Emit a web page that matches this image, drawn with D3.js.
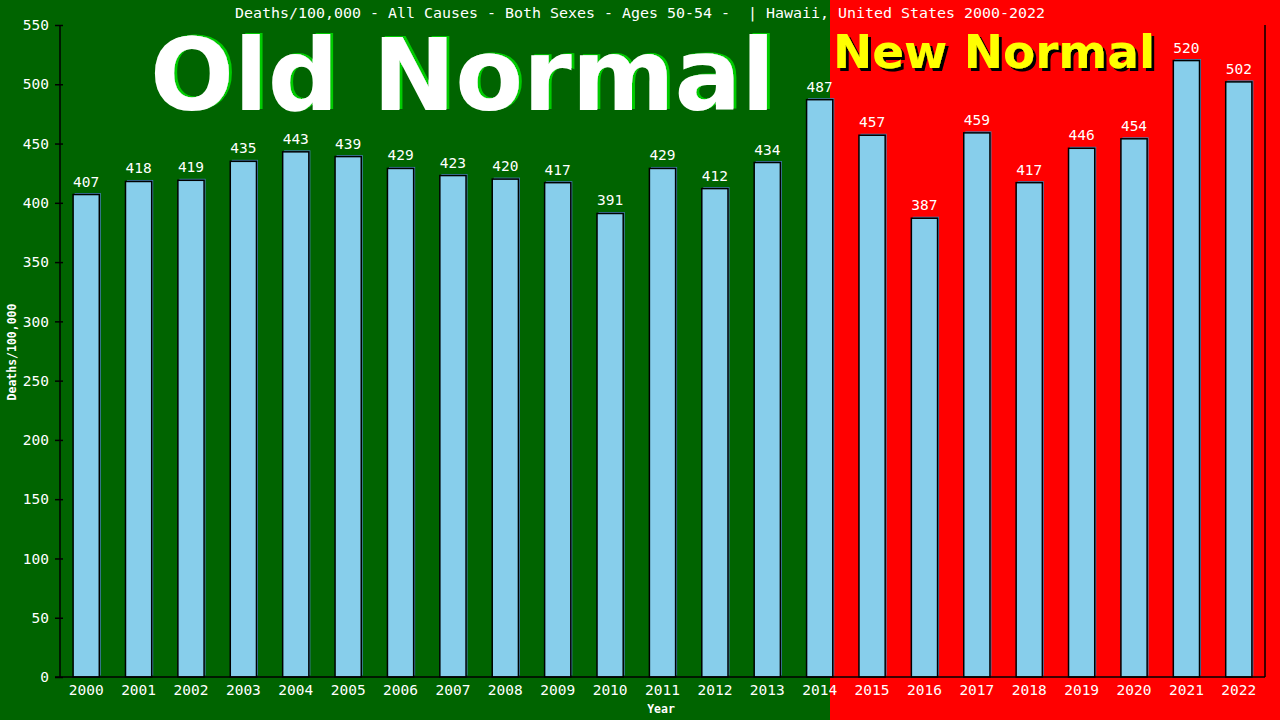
<!DOCTYPE html>
<html>
<head>
<meta charset="utf-8">
<script src="https://cdn.jsdelivr.net/npm/d3@7"></script>
<style>
html,body{margin:0;padding:0;background:#006400;}
svg{display:block;}
</style>
</head>
<body>
<svg id="chart" width="1280" height="720"></svg>
<script>
const years = ["2000","2001","2002","2003","2004","2005","2006","2007","2008","2009","2010","2011","2012","2013","2014","2015","2016","2017","2018","2019","2020","2021","2022"];
const deaths = [407,418,419,435,443,439,429,423,420,417,391,429,412,434,487,457,387,459,417,446,454,520,502];
const yTicks = [0,50,100,150,200,250,300,350,400,450,500,550];
const titleText = "Deaths/100,000 - All Causes - Both Sexes - Ages 50-54 -  | Hawaii, United States 2000-2022";
const yLabel = "Deaths/100,000";
const xLabel = "Year";
const oldLabel = "Old Normal";
const newLabel = "New Normal";

const W = 1280, H = 720;
const m = {left:60, right:15, top:25, bottom:43};
const split = 830;
const mono = "'DejaVu Sans Mono', monospace";

const svg = d3.select("#chart");
const defs = svg.append("defs");
const f1 = defs.append("filter").attr("id","shOld").attr("x","-5%").attr("y","-10%").attr("width","110%").attr("height","120%");
f1.append("feDropShadow").attr("dx",3).attr("dy",-1).attr("stdDeviation",0).attr("flood-color","#00cc00").attr("flood-opacity",1);
const f2 = defs.append("filter").attr("id","shNew").attr("x","-5%").attr("y","-10%").attr("width","110%").attr("height","130%");
f2.append("feDropShadow").attr("dx",3).attr("dy",3).attr("stdDeviation",0).attr("flood-color","#000000").attr("flood-opacity",1);

svg.append("rect").attr("x",0).attr("y",0).attr("width",split).attr("height",H).attr("fill","#006400");
svg.append("rect").attr("x",split).attr("y",0).attr("width",W-split).attr("height",H).attr("fill","#ff0000");

const x = d3.scaleBand().domain(years).range([m.left, W-m.right]).paddingInner(0.5).paddingOuter(0.25);
const y = d3.scaleLinear().domain([0,550]).range([H-m.bottom, m.top]);

// Big labels
svg.append("text").attr("x",150).attr("y",110).text(oldLabel)
  .attr("font-family","'DejaVu Sans', sans-serif").attr("font-weight","bold").attr("font-size",100)
  .attr("fill","#ffffff").attr("textLength",625).attr("lengthAdjust","spacingAndGlyphs")
  .attr("filter","url(#shOld)");

svg.append("text").attr("x",833).attr("y",68).text(newLabel)
  .attr("font-family","'DejaVu Sans', sans-serif").attr("font-weight","bold").attr("font-size",47)
  .attr("fill","#ffff00").attr("textLength",322).attr("lengthAdjust","spacingAndGlyphs")
  .attr("filter","url(#shNew)");

// Title
svg.append("text").attr("x",640).attr("y",18).attr("text-anchor","middle").text(titleText)
  .style("white-space","pre")
  .attr("font-family",mono).attr("font-size",14).attr("fill","#ffffff")
  .attr("textLength",810).attr("lengthAdjust","spacingAndGlyphs");

// Bars
const bars = svg.append("g");
const data = years.map((yr,i)=>({yr, v:deaths[i]}));
bars.selectAll("rect.sh").data(data).enter().append("rect").attr("class","sh")
  .attr("x",d=>x(d.yr)+1.5).attr("y",d=>y(d.v)-1.5)
  .attr("width",x.bandwidth()).attr("height",d=>y(0)-y(d.v))
  .attr("fill","#4682b4");
bars.selectAll("rect.b").data(data).enter().append("rect").attr("class","b")
  .attr("x",d=>x(d.yr)).attr("y",d=>y(d.v))
  .attr("width",x.bandwidth()).attr("height",d=>y(0)-y(d.v))
  .attr("fill","#87ceeb").attr("stroke","#000").attr("stroke-width",1.5);
bars.selectAll("text").data(data).enter().append("text")
  .attr("x",d=>x(d.yr)+x.bandwidth()/2).attr("y",d=>y(d.v)-8)
  .attr("text-anchor","middle").text(d=>d.v)
  .attr("font-family",mono).attr("font-size",14.5).attr("fill","#fff");

// Frame right line
svg.append("line").attr("x1",W-m.right).attr("x2",W-m.right).attr("y1",m.top).attr("y2",H-m.bottom)
  .attr("stroke","#000").attr("stroke-width",1.5);

// Y axis
const yAxis = svg.append("g").attr("transform",`translate(${m.left},0)`)
  .call(d3.axisLeft(y).tickValues(yTicks).tickSize(5).tickPadding(6));
yAxis.select(".domain").attr("stroke","#000").attr("stroke-width",1.5).attr("d",`M0,${m.top}V${H-m.bottom}`);
yAxis.selectAll(".tick line").attr("stroke","#000").attr("stroke-width",1.5).attr("x1",3);
yAxis.selectAll(".tick text").attr("fill","#fff").attr("font-family",mono).attr("font-size",14.5);

// X axis
const xAxis = svg.append("g").attr("transform",`translate(0,${H-m.bottom})`)
  .call(d3.axisBottom(x).tickSize(0).tickPadding(8));
xAxis.select(".domain").attr("stroke","#000").attr("stroke-width",1.5).attr("d",`M55,0H${W-m.right}`);
xAxis.selectAll(".tick text").attr("fill","#fff").attr("font-family",mono).attr("font-size",14.5);

// Axis titles
svg.append("text").attr("transform","translate(16,352) rotate(-90)").attr("text-anchor","middle")
  .text(yLabel).attr("font-family",mono).attr("font-weight","bold").attr("font-size",11.5).attr("fill","#fff");
svg.append("text").attr("x",661).attr("y",713).attr("text-anchor","middle")
  .text(xLabel).attr("font-family",mono).attr("font-weight","bold").attr("font-size",11.5).attr("fill","#fff");
</script>
</body>
</html>
